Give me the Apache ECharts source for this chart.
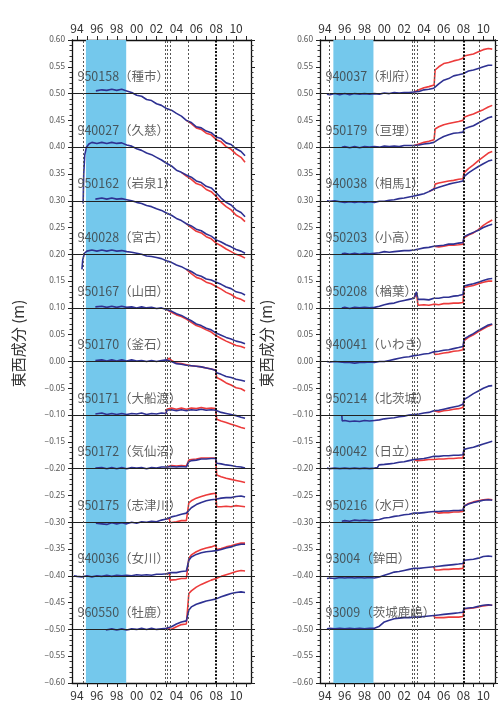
<!DOCTYPE html>
<html><head><meta charset="utf-8">
<script src="https://cdn.jsdelivr.net/npm/echarts@6/dist/echarts.min.js"></script>
<style>html,body{margin:0;padding:0;background:#fff}#c{width:498px;height:707px}</style>
</head><body><div id="c"></div>
<script>
// ---- axis data ----
const labelYears = [1994,1996,1998,2000,2002,2004,2006,2008,2010];
const tickYears = [1994,1995,1996,1997,1998,1999,2000,2001,2002,2003,2004,2005,2006,2007,2008,2009,2010,2011];
const baselines = [0.5,0.4,0.3,0.2,0.1,0,-0.1,-0.2,-0.3,-0.4,-0.5];

// ---- stations ----
const leftIds = ['950158','940027','950162','940028','950167','950170','950171','950172','950175','940036','960550'];
const leftNames = ['種市','久慈','岩泉1','宮古','山田','釜石','大船渡','気仙沼','志津川','女川','牡鹿'];
const rightIds = ['940037','950179','940038','950203','950208','940041','950214','940042','950216','93004','93009'];
const rightNames = ['利府','亘理','相馬1','小高','楢葉','いわき','北茨城','日立','水戸','鉾田','茨城鹿嶋'];

// shaded period and event epochs (years)
const leftBand = [1994.9, 1998.95];
const rightBand = [1994.85, 1998.9];
const leftEvents = [1994.6, 2002.9, 2003.05, 2003.35, 2005.2, 2009.7];
const rightEvents = [1994.4, 2002.85, 2003.0, 2003.3, 2005.08, 2009.62];
const leftMain = [1998.0 + 9.98];
const rightMain = [2008.0];

// ---- series: [year, displacement mm] ----
const leftBlue = [
[[1995.9,5],[1996.5,7],[1997.0,6],[1997.5,8],[1998.0,6],[1998.5,8],[1999.0,5],[1999.5,2],[2000.0,-3],[2000.5,-5],[2001.0,-11],[2001.5,-13],[2002.0,-19],[2002.5,-22],[2003.0,-28],[2003.5,-31],[2004.0,-37],[2004.5,-42],[2005.0,-50],[2005.5,-54],[2006.0,-62],[2006.5,-64],[2007.0,-70],[2007.5,-73],[2008.0,-81],[2008.5,-84],[2009.0,-92],[2009.5,-95],[2010.0,-103],[2010.5,-108],[2010.9,-116]],
[[1994.62,-105],[1994.68,-50],[1994.78,-15],[1994.95,0],[1995.2,6],[1995.5,9],[1996.0,7],[1996.5,9],[1997.0,7],[1997.5,9],[1998.0,7],[1998.5,8],[1999.0,4],[1999.5,2],[2000.0,-3],[2000.5,-6],[2001.0,-11],[2001.5,-14],[2002.0,-19],[2002.5,-24],[2003.0,-30],[2003.5,-35],[2004.0,-43],[2004.5,-47],[2005.0,-52],[2005.5,-56],[2006.0,-63],[2006.5,-66],[2007.0,-73],[2007.5,-76],[2008.0,-85],[2008.5,-95],[2009.0,-103],[2009.5,-108],[2010.0,-117],[2010.5,-122],[2010.9,-130]],
[[1995.85,3],[1996.5,5],[1997.0,3],[1997.5,5],[1998.0,3],[1998.5,4],[1999.0,2],[1999.5,0],[2000.0,-3],[2000.5,-5],[2001.0,-9],[2001.5,-11],[2002.0,-15],[2002.5,-18],[2003.0,-23],[2003.5,-27],[2004.0,-33],[2004.5,-37],[2005.0,-43],[2005.5,-47],[2006.0,-53],[2006.5,-56],[2007.0,-62],[2007.5,-66],[2008.0,-73],[2008.5,-77],[2009.0,-82],[2009.5,-86],[2010.0,-91],[2010.5,-94],[2010.9,-98]],
[[1994.5,-28],[1994.58,-10],[1994.75,2],[1995.0,6],[1995.5,8],[1996.0,6],[1996.5,8],[1997.0,6],[1997.5,8],[1998.0,6],[1998.5,7],[1999.0,5],[1999.5,4],[2000.0,2],[2000.5,0],[2001.0,-3],[2001.5,-4],[2002.0,-6],[2002.5,-8],[2003.0,-12],[2003.5,-15],[2004.0,-20],[2004.5,-23],[2005.0,-28],[2005.5,-32],[2006.0,-38],[2006.5,-41],[2007.0,-46],[2007.5,-48],[2008.0,-52],[2008.5,-56],[2009.0,-61],[2009.5,-64],[2010.0,-70],[2010.5,-72],[2010.9,-76]],
[[1995.85,2],[1996.5,3],[1997.0,1],[1997.5,3],[1998.0,1],[1998.5,3],[1999.0,1],[1999.5,2],[2000.0,0],[2000.5,2],[2001.0,0],[2001.5,1],[2002.0,-1],[2002.5,0],[2003.0,-3],[2003.5,-6],[2004.0,-11],[2004.5,-14],[2005.0,-19],[2005.5,-24],[2006.0,-30],[2006.5,-33],[2007.0,-38],[2007.5,-41],[2008.0,-47],[2008.5,-51],[2009.0,-55],[2009.5,-58],[2010.0,-62],[2010.5,-64],[2010.9,-67]],
[[1995.85,2],[1996.5,3],[1997.0,1],[1997.5,3],[1998.0,1],[1998.5,3],[1999.0,1],[1999.5,3],[2000.0,1],[2000.5,2],[2001.0,0],[2001.5,2],[2002.0,0],[2002.5,2],[2003.0,3],[2003.5,0],[2004.0,-4],[2004.5,-5],[2005.0,-7],[2005.5,-8],[2006.0,-9],[2006.5,-10],[2007.0,-12],[2007.5,-14],[2007.95,-17],[2008.05,-21],[2008.5,-24],[2009.0,-28],[2009.5,-30],[2010.0,-33],[2010.5,-35],[2010.9,-37]],
[[1995.85,2],[1996.5,4],[1997.0,1],[1997.5,3],[1998.0,1],[1998.5,3],[1999.0,1],[1999.5,3],[2000.0,2],[2000.5,4],[2001.0,1],[2001.5,3],[2002.0,2],[2002.5,4],[2002.95,3],[2003.05,9],[2003.5,10],[2004.0,8],[2004.5,10],[2005.0,8],[2005.5,10],[2006.0,9],[2006.5,11],[2007.0,9],[2007.5,10],[2007.95,9],[2008.05,6],[2008.5,5],[2009.0,3],[2009.5,1],[2010.0,-1],[2010.5,-4],[2010.9,-6]],
[[1995.85,1],[1996.5,2],[1997.0,0],[1997.5,2],[1998.0,0],[1998.5,2],[1999.0,0],[1999.5,2],[2000.0,1],[2000.5,2],[2001.0,0],[2001.5,2],[2002.0,1],[2002.5,3],[2003.0,3],[2003.5,4],[2004.0,3],[2004.5,4],[2005.0,3],[2005.15,4],[2005.25,13],[2005.5,15],[2006.0,16],[2006.5,18],[2007.0,18],[2007.5,19],[2007.95,19],[2008.05,10],[2008.5,9],[2009.0,7],[2009.5,6],[2010.0,4],[2010.5,3],[2010.9,1]],
[[1995.9,-2],[1996.5,-3],[1997.0,-4],[1997.5,-1],[1998.0,-3],[1998.5,-1],[1999.0,-3],[1999.5,0],[2000.0,-2],[2000.5,1],[2001.0,0],[2001.5,2],[2002.0,1],[2002.5,4],[2003.0,6],[2003.5,10],[2004.0,12],[2004.5,15],[2005.0,17],[2005.2,20],[2005.5,27],[2006.0,33],[2006.5,37],[2007.0,40],[2007.5,42],[2007.95,43],[2008.05,45],[2008.5,45],[2009.0,46],[2009.5,46],[2010.0,48],[2010.5,49],[2010.9,47]],
[[1993.7,0],[1994.0,-1],[1994.5,-2],[1995.0,0],[1995.5,-2],[1996.0,0],[1996.5,-1],[1997.0,1],[1997.5,-1],[1998.0,1],[1998.5,0],[1999.0,1],[1999.5,0],[2000.0,2],[2000.5,1],[2001.0,2],[2001.5,1],[2002.0,3],[2002.5,3],[2003.0,4],[2003.5,6],[2004.0,6],[2004.5,8],[2005.0,9],[2005.15,10],[2005.25,29],[2005.5,35],[2006.0,40],[2006.5,43],[2007.0,45],[2007.5,46],[2008.0,47],[2008.5,49],[2009.0,52],[2009.5,54],[2010.0,57],[2010.5,59],[2010.9,59]],
[[1996.9,-1],[1997.5,1],[1998.0,-1],[1998.5,1],[1999.0,-1],[1999.5,1],[2000.0,0],[2000.5,2],[2001.0,0],[2001.5,2],[2002.0,0],[2002.5,1],[2003.0,2],[2003.5,5],[2004.0,10],[2004.5,14],[2005.0,16],[2005.15,17],[2005.25,36],[2005.5,42],[2006.0,47],[2006.5,50],[2007.0,53],[2007.5,55],[2008.0,57],[2008.5,61],[2009.0,64],[2009.5,67],[2010.0,69],[2010.5,70],[2010.9,69]]
];
const leftRed = [
[[2005.0,-50],[2005.5,-56],[2006.0,-64],[2006.5,-67],[2007.0,-74],[2007.5,-77],[2008.0,-86],[2008.5,-90],[2009.0,-99],[2009.5,-104],[2010.0,-113],[2010.5,-119],[2010.9,-128]],
[[2004.5,-47],[2005.0,-54],[2005.5,-60],[2006.0,-68],[2006.5,-71],[2007.0,-79],[2007.5,-83],[2008.0,-92],[2008.5,-103],[2009.0,-111],[2009.5,-117],[2010.0,-127],[2010.5,-132],[2010.9,-139]],
[[2005.0,-43],[2005.5,-50],[2006.0,-57],[2006.5,-60],[2007.0,-67],[2007.5,-71],[2008.0,-79],[2008.5,-84],[2009.0,-90],[2009.5,-95],[2010.0,-100],[2010.5,-103],[2010.9,-107]],
[[2005.0,-28],[2005.5,-36],[2006.0,-43],[2006.5,-46],[2007.0,-52],[2007.5,-55],[2008.0,-60],[2008.5,-65],[2009.0,-71],[2009.5,-75],[2010.0,-81],[2010.5,-84],[2010.9,-88]],
[[2003.0,-3],[2003.5,-8],[2004.0,-13],[2004.5,-16],[2005.0,-21],[2005.5,-27],[2006.0,-33],[2006.5,-36],[2007.0,-41],[2007.5,-45],[2008.0,-52],[2008.5,-57],[2009.0,-62],[2009.5,-66],[2010.0,-70],[2010.5,-72],[2010.9,-75]],
[[2003.0,3],[2003.3,6],[2003.5,2],[2004.0,-3],[2004.5,-4],[2005.0,-6],[2005.5,-8],[2006.0,-9],[2006.5,-10],[2007.0,-12],[2007.5,-14],[2007.95,-16],[2008.05,-30],[2008.5,-34],[2009.0,-40],[2009.5,-44],[2010.0,-49],[2010.5,-51],[2010.9,-55]],
[[2002.95,3],[2003.05,11],[2003.5,13],[2004.0,11],[2004.5,13],[2005.0,11],[2005.5,13],[2006.0,12],[2006.5,14],[2007.0,12],[2007.5,13],[2007.95,12],[2008.05,-8],[2008.5,-11],[2009.0,-14],[2009.5,-17],[2010.0,-20],[2010.5,-23],[2010.9,-25]],
[[2003.0,3],[2003.5,6],[2004.0,5],[2004.5,6],[2005.0,5],[2005.15,6],[2005.25,16],[2005.5,17],[2006.0,18],[2006.5,20],[2007.0,20],[2007.5,20],[2007.95,20],[2008.05,-12],[2008.5,-15],[2009.0,-18],[2009.5,-20],[2010.0,-22],[2010.5,-24],[2010.9,-26]],
[[2003.0,6],[2003.3,7],[2003.35,-1],[2003.5,0],[2004.0,1],[2004.5,3],[2005.0,3],[2005.15,4],[2005.25,36],[2005.5,40],[2006.0,45],[2006.5,48],[2007.0,51],[2007.5,53],[2007.95,54],[2008.05,29],[2008.5,29],[2009.0,30],[2009.5,29],[2010.0,31],[2010.5,30],[2010.9,29]],
[[2003.0,4],[2003.3,5],[2003.35,-8],[2003.5,-7],[2004.0,-7],[2004.5,-5],[2005.0,-5],[2005.15,-4],[2005.25,33],[2005.5,39],[2006.0,45],[2006.5,49],[2007.0,52],[2007.5,54],[2007.95,57],[2008.05,49],[2008.5,51],[2009.0,54],[2009.5,56],[2010.0,59],[2010.5,61],[2010.9,61]],
[[2003.0,2],[2003.3,3],[2003.35,-1],[2003.5,1],[2004.0,5],[2004.5,9],[2005.0,10],[2005.15,11],[2005.25,67],[2005.5,72],[2006.0,79],[2006.5,84],[2007.0,88],[2007.5,92],[2008.0,95],[2008.5,99],[2009.0,102],[2009.5,105],[2010.0,108],[2010.5,110],[2010.9,109]]
];
const rightBlue = [
[[1994.2,-1],[1994.5,-2],[1995.0,0],[1995.5,-2],[1996.0,0],[1996.5,-2],[1997.0,0],[1997.5,-1],[1998.0,0],[1998.5,-1],[1999.0,0],[1999.5,-1],[2000.0,1],[2000.5,0],[2001.0,2],[2001.5,1],[2002.0,2],[2002.5,2],[2003.0,3],[2003.5,4],[2004.0,7],[2004.5,8],[2005.0,10],[2005.5,18],[2006.0,25],[2006.5,28],[2007.0,33],[2007.5,35],[2007.95,37],[2008.05,40],[2008.5,42],[2009.0,44],[2009.5,47],[2010.0,50],[2010.5,53],[2010.9,53]],
[[1995.7,0],[1996.0,1],[1996.5,-1],[1997.0,1],[1997.5,-1],[1998.0,1],[1998.5,0],[1999.0,1],[1999.5,0],[2000.0,2],[2000.5,1],[2001.0,2],[2001.5,1],[2002.0,3],[2002.5,3],[2003.0,3],[2003.5,4],[2004.0,6],[2004.5,7],[2005.0,9],[2005.5,15],[2006.0,20],[2006.5,23],[2007.0,26],[2007.5,27],[2007.95,28],[2008.05,34],[2008.5,37],[2009.0,40],[2009.5,45],[2010.0,50],[2010.5,55],[2010.9,57]],
[[1994.2,0],[1994.5,-1],[1995.0,0],[1995.5,-2],[1996.0,-3],[1996.5,-2],[1997.0,-3],[1997.5,-2],[1998.0,-3],[1998.5,-2],[1999.0,-3],[1999.5,-1],[2000.0,-1],[2000.5,1],[2001.0,2],[2001.5,4],[2002.0,5],[2002.5,7],[2003.0,9],[2003.5,11],[2004.0,13],[2004.5,17],[2005.0,22],[2005.5,25],[2006.0,28],[2006.5,31],[2007.0,33],[2007.5,35],[2007.95,37],[2008.05,45],[2008.5,52],[2009.0,58],[2009.5,64],[2010.0,69],[2010.5,74],[2010.9,76]],
[[1995.7,1],[1996.0,2],[1996.5,0],[1997.0,2],[1997.5,0],[1998.0,2],[1998.5,1],[1999.0,2],[1999.5,3],[2000.0,5],[2000.5,4],[2001.0,5],[2001.5,6],[2002.0,7],[2002.5,7],[2003.0,8],[2003.5,10],[2004.0,12],[2004.5,13],[2005.0,15],[2005.5,16],[2006.0,17],[2006.5,19],[2007.0,19],[2007.5,21],[2007.95,22],[2008.05,33],[2008.5,37],[2009.0,41],[2009.5,45],[2010.0,50],[2010.5,54],[2010.9,56]],
[[1995.7,0],[1996.0,1],[1996.5,-1],[1997.0,1],[1997.5,0],[1998.0,1],[1998.5,0],[1999.0,1],[1999.5,3],[2000.0,6],[2000.5,8],[2001.0,9],[2001.5,12],[2002.0,14],[2002.5,16],[2003.0,18],[2003.25,30],[2003.4,16],[2003.5,15],[2004.0,16],[2004.5,15],[2005.0,18],[2005.5,18],[2006.0,20],[2006.5,20],[2007.0,22],[2007.5,23],[2007.95,25],[2008.05,41],[2008.5,43],[2009.0,45],[2009.5,48],[2010.0,51],[2010.5,54],[2010.9,55]],
[[1994.2,0],[1994.5,-1],[1995.0,0],[1995.5,-1],[1996.0,-2],[1996.5,-2],[1997.0,-3],[1997.5,-2],[1998.0,-2],[1998.5,-1],[1999.0,-2],[1999.5,0],[2000.0,0],[2000.5,2],[2001.0,4],[2001.5,6],[2002.0,8],[2002.5,9],[2003.0,11],[2003.5,12],[2004.0,14],[2004.5,15],[2005.0,18],[2005.5,19],[2006.0,21],[2006.5,22],[2007.0,24],[2007.5,26],[2007.95,28],[2008.05,42],[2008.5,47],[2009.0,52],[2009.5,58],[2010.0,63],[2010.5,68],[2010.9,70]],
[[1995.7,0],[1995.75,-11],[1996.0,-10],[1996.5,-12],[1997.0,-11],[1997.5,-12],[1998.0,-10],[1998.5,-11],[1999.0,-10],[1999.5,-9],[2000.0,-7],[2000.5,-6],[2001.0,-5],[2001.5,-3],[2002.0,-2],[2002.5,0],[2003.0,1],[2003.5,2],[2004.0,4],[2004.5,5],[2005.0,8],[2005.5,9],[2006.0,11],[2006.5,13],[2007.0,15],[2007.5,17],[2007.95,20],[2008.05,29],[2008.5,34],[2009.0,40],[2009.5,45],[2010.0,50],[2010.5,54],[2010.9,55]],
[[1994.2,1],[1994.5,0],[1995.0,1],[1995.5,0],[1996.0,1],[1996.5,0],[1997.0,1],[1997.5,0],[1998.0,1],[1998.5,0],[1999.0,1],[1999.3,2],[1999.45,7],[2000.0,8],[2000.5,9],[2001.0,10],[2001.5,12],[2002.0,13],[2002.5,15],[2003.0,17],[2003.5,18],[2004.0,19],[2004.5,21],[2005.0,23],[2005.5,23],[2006.0,24],[2006.5,24],[2007.0,25],[2007.5,25],[2007.95,26],[2008.05,36],[2008.5,38],[2009.0,40],[2009.5,43],[2010.0,46],[2010.5,49],[2010.9,51]],
[[1995.7,2],[1996.0,3],[1996.5,2],[1997.0,4],[1997.5,3],[1998.0,4],[1998.5,3],[1999.0,4],[1999.5,5],[2000.0,8],[2000.5,9],[2001.0,11],[2001.5,12],[2002.0,14],[2002.5,15],[2003.0,17],[2003.5,17],[2004.0,18],[2004.5,19],[2005.0,20],[2005.5,20],[2006.0,21],[2006.5,21],[2007.0,22],[2007.5,22],[2007.95,23],[2008.05,30],[2008.5,34],[2009.0,37],[2009.5,39],[2010.0,41],[2010.5,42],[2010.9,41]],
[[1994.2,-5],[1994.5,-4],[1995.0,-5],[1995.5,-3],[1996.0,-4],[1996.5,-3],[1997.0,-4],[1997.5,-3],[1998.0,-4],[1998.5,-3],[1999.0,-4],[1999.5,-2],[2000.0,1],[2000.5,4],[2001.0,7],[2001.5,8],[2002.0,10],[2002.5,12],[2003.0,14],[2003.5,14],[2004.0,15],[2004.5,16],[2005.0,17],[2005.5,18],[2006.0,19],[2006.5,20],[2007.0,21],[2007.5,22],[2007.95,23],[2008.05,29],[2008.5,30],[2009.0,31],[2009.5,33],[2010.0,36],[2010.5,37],[2010.9,36]],
[[1994.2,1],[1994.5,2],[1995.0,1],[1995.5,2],[1996.0,1],[1996.5,2],[1997.0,1],[1997.5,2],[1998.0,1],[1998.5,2],[1999.0,2],[1999.5,6],[2000.0,14],[2000.5,17],[2001.0,20],[2001.5,21],[2002.0,22],[2002.5,22],[2003.0,23],[2003.5,23],[2004.0,24],[2004.5,25],[2005.0,26],[2005.5,27],[2006.0,28],[2006.5,29],[2007.0,30],[2007.5,31],[2007.95,32],[2008.05,39],[2008.5,40],[2009.0,41],[2009.5,43],[2010.0,45],[2010.5,46],[2010.9,45]]
];
const rightRed = [
[[2003.0,3],[2003.5,7],[2004.0,11],[2004.5,13],[2005.03,16],[2005.13,44],[2005.5,50],[2006.0,56],[2006.5,58],[2007.0,61],[2007.5,63],[2007.95,66],[2008.05,70],[2008.5,72],[2009.0,74],[2009.5,78],[2010.0,82],[2010.5,84],[2010.9,83]],
[[2003.0,3],[2003.5,6],[2004.0,9],[2004.5,11],[2005.03,14],[2005.13,34],[2005.5,38],[2006.0,42],[2006.5,44],[2007.0,46],[2007.5,48],[2007.95,50],[2008.05,56],[2008.5,59],[2009.0,62],[2009.5,66],[2010.0,70],[2010.5,75],[2010.9,78]],
[[2004.5,17],[2005.03,22],[2005.13,31],[2005.5,33],[2006.0,35],[2006.5,37],[2007.0,38],[2007.5,40],[2007.95,41],[2008.05,52],[2008.5,60],[2009.0,67],[2009.5,75],[2010.0,82],[2010.5,89],[2010.9,92]],
[[2005.0,15],[2005.5,14],[2006.0,15],[2006.5,17],[2007.0,17],[2007.5,18],[2007.95,19],[2008.05,31],[2008.5,36],[2009.0,40],[2009.5,46],[2010.0,54],[2010.5,60],[2010.9,64]],
[[2003.0,18],[2003.25,28],[2003.4,5],[2003.5,4],[2004.0,6],[2004.5,5],[2005.0,7],[2005.5,6],[2006.0,8],[2006.5,8],[2007.0,9],[2007.5,9],[2007.95,10],[2008.05,38],[2008.5,40],[2009.0,42],[2009.5,45],[2010.0,48],[2010.5,50],[2010.9,50]],
[[2005.0,18],[2005.1,13],[2005.5,14],[2006.0,16],[2006.5,17],[2007.0,19],[2007.5,20],[2007.95,22],[2008.05,39],[2008.5,45],[2009.0,50],[2009.5,56],[2010.0,61],[2010.5,66],[2010.9,69]],
[[2005.0,8],[2005.1,5],[2005.5,6],[2006.0,8],[2006.5,9],[2007.0,11],[2007.5,12],[2007.95,14],[2008.05,29]],
[[2003.0,17],[2003.3,15],[2003.5,15],[2004.0,16],[2004.5,17],[2005.0,17],[2005.5,18],[2006.0,18],[2006.5,19],[2007.0,19],[2007.5,20],[2007.95,20],[2008.05,36]],
[[2005.0,20],[2005.1,17],[2005.5,17],[2006.0,18],[2006.5,18],[2007.0,19],[2007.5,19],[2007.95,20],[2008.05,30],[2008.5,35],[2009.0,38],[2009.5,40],[2010.0,42],[2010.5,43],[2010.9,42]],
[[2005.0,17],[2005.1,11],[2005.5,11],[2006.0,12],[2006.5,12],[2007.0,13],[2007.5,13],[2007.95,14],[2008.05,29]],
[[2005.0,26],[2005.1,22],[2005.5,22],[2006.0,22],[2006.5,23],[2007.0,23],[2007.5,23],[2007.95,24],[2008.05,38],[2008.5,39],[2009.0,40],[2009.5,42],[2010.0,44],[2010.5,45],[2010.9,45]]
];

// ---- chart ----
const BLUE = '#2e3192', RED = '#ec3b3b', BAND = '#74c8ec';
const FONT = '"Noto Sans CJK JP", "Noto Sans", sans-serif';
const grids = [
  {left: 72, top: 40, width: 179, height: 643, xmax: 2011.5},
  {left: 320, top: 40, width: 175, height: 643, xmax: 2011.18}
];
const panels = [
  {ids: leftIds, names: leftNames, blue: leftBlue, red: leftRed, band: leftBand, events: leftEvents, main: leftMain},
  {ids: rightIds, names: rightNames, blue: rightBlue, red: rightRed, band: rightBand, events: rightEvents, main: rightMain}
];
const yFmt = v => Math.abs(v) < 1e-9 ? '0.00' : (v < 0 ? '\u2212' : '') + Math.abs(v).toFixed(2);
const xFmt = v => String(Math.round(v) % 100).padStart(2, '0');

const option = {
  animation: false,
  backgroundColor: '#fff',
  grid: grids.map(g => ({left: g.left, top: g.top, width: g.width, height: g.height, outerBoundsMode: 'none', containLabel: false})),
  xAxis: [], yAxis: [], series: []
};
grids.forEach((g, p) => {
  ['top', 'bottom'].forEach(pos => option.xAxis.push({
    type: 'value', gridIndex: p, position: pos, min: 1993.5, max: g.xmax,
    axisLine: {show: true, onZero: false, lineStyle: {color: '#111', width: 1.3}},
    axisTick: {show: true, length: 4, customValues: tickYears, lineStyle: {color: '#222', width: 1}},
    axisLabel: {show: true, customValues: labelYears, formatter: xFmt, fontSize: 12, color: '#333', margin: 6, fontFamily: FONT},
    splitLine: {show: false}
  }));
  ['left', 'right'].forEach(pos => option.yAxis.push({
    type: 'value', gridIndex: p, position: pos, min: -0.6, max: 0.6, interval: 0.05,
    name: pos === 'left' ? '東西成分 (m)' : '', nameLocation: 'middle', nameRotate: 90, nameGap: 46,
    nameTextStyle: {fontSize: 15, color: '#333', fontFamily: FONT, padding: [0, 0, 0, 36]},
    axisLine: {show: true, onZero: false, lineStyle: {color: '#111', width: 1.3}},
    axisTick: {show: true, length: 4, lineStyle: {color: '#222'}},
    minorTick: {show: true, splitNumber: 5, length: 2.5, lineStyle: {color: '#333'}},
    axisLabel: {show: pos === 'left', formatter: yFmt, fontSize: 8, color: '#555', margin: 7, fontFamily: '"Noto Sans", sans-serif'},
    splitLine: {show: false}
  }));
  const P = panels[p];
  const xi = p * 2 + 1, yi = p * 2;
  // shaded band
  option.series.push({
    type: 'line', xAxisIndex: xi, yAxisIndex: yi, data: [], z: 1, silent: true,
    markArea: {silent: true, itemStyle: {color: BAND}, data: [[{xAxis: P.band[0]}, {xAxis: P.band[1]}]]}
  });
  // reference lines
  option.series.push({
    type: 'line', xAxisIndex: xi, yAxisIndex: yi, data: [], z: 2, silent: true,
    markLine: {silent: true, symbol: 'none', label: {show: false}, animation: false,
      data: baselines.map(v => ({yAxis: v, lineStyle: {color: '#222', width: 1, type: 'solid'}}))
        .concat(P.events.map(v => ({xAxis: v, lineStyle: {color: '#555', width: 1, type: [2, 2]}})))
        .concat(P.main.map(v => ({xAxis: v, lineStyle: {color: '#111', width: 2, type: [2, 1.5]}})))
    }
  });
  P.ids.forEach((id, i) => {
    const b = baselines[i];
    option.series.push({
      type: 'line', xAxisIndex: xi, yAxisIndex: yi, z: 3, showSymbol: false, symbol: 'none',
      lineStyle: {color: RED, width: 1.6}, data: P.red[i].map(d => [d[0], b + d[1] / 1000])
    });
  });
  P.ids.forEach((id, i) => {
    const b = baselines[i];
    option.series.push({
      type: 'line', xAxisIndex: xi, yAxisIndex: yi, z: 4, showSymbol: false, symbol: 'none',
      lineStyle: {color: BLUE, width: 1.6}, data: P.blue[i].map(d => [d[0], b + d[1] / 1000])
    });
  });
  option.series.push({
    type: 'scatter', xAxisIndex: xi, yAxisIndex: yi, z: 5, symbolSize: 0, silent: true,
    data: P.ids.map((id, i) => [1994.05, baselines[i] + 0.032, id + '（' + P.names[i] + '）']),
    label: {show: true, position: 'right', distance: 0, formatter: q => q.data[2], fontSize: 12.5, color: '#3a3a3a', fontFamily: FONT}
  });
});
const chart = echarts.init(document.getElementById('c'), null, {renderer: 'canvas'});
chart.setOption(option);
</script>
</body></html>
